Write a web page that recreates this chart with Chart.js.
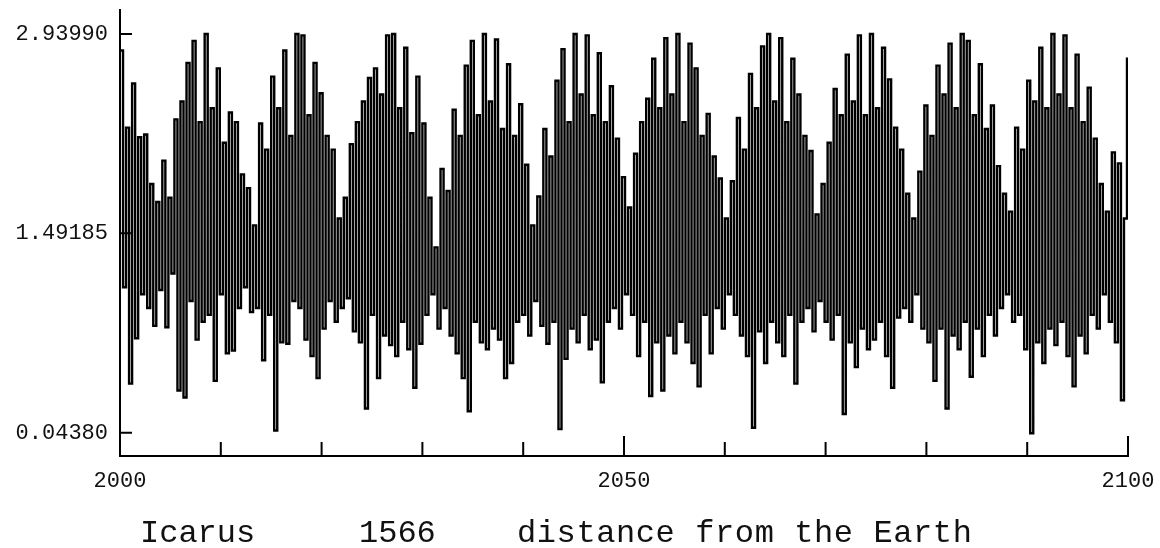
<!DOCTYPE html>
<html>
<head>
<meta charset="utf-8">
<script src="https://cdn.jsdelivr.net/npm/chart.js@4/dist/chart.umd.min.js"></script>
<style>
    body { margin: 0; background: #fff; }
    #wrap { width: 1160px; height: 548px; }
</style>
</head>
<body>
<div id="wrap"><canvas id="icarus_chart" width="1160" height="548"></canvas></div>
<script>
// sampling of the curve: one value every 0.3 year from 2000
const startYear = 2000;
const sampleStep = 0.3;

// Earth - Icarus distance (alternating high / low samples)
const distance = [
    2.82, 1.10, 2.26, 0.40, 2.58, 0.73, 2.19, 1.05, 2.21, 0.95,
    1.85, 0.82, 1.72, 1.08, 2.02, 0.81, 1.75, 1.20, 2.32, 0.35,
    2.45, 0.30, 2.73, 1.00, 2.89, 0.72, 2.30, 0.85, 2.94, 0.90,
    2.40, 0.42, 2.69, 1.05, 2.15, 0.62, 2.37, 0.64, 2.30, 0.95,
    1.92, 1.10, 1.82, 0.92, 1.55, 0.95, 2.29, 0.57, 2.10, 0.90,
    2.63, 0.06, 2.40, 0.70, 2.82, 0.69, 2.20, 1.00, 2.94, 0.95,
    2.93, 0.72, 2.35, 0.60, 2.73, 0.44, 2.51, 0.80, 2.20, 1.00,
    2.10, 0.85, 1.60, 0.95, 1.75, 1.02, 2.14, 0.78, 2.30, 0.70,
    2.45, 0.22, 2.62, 0.90, 2.69, 0.44, 2.50, 0.75, 2.93, 0.68,
    2.94, 0.60, 2.40, 0.85, 2.84, 0.65, 2.22, 0.37, 2.63, 0.69,
    2.29, 0.90, 1.75, 1.05, 1.39, 0.80, 1.96, 0.95, 1.80, 0.75,
    2.39, 0.62, 2.20, 0.44, 2.71, 0.20, 2.89, 0.85, 2.35, 0.70,
    2.94, 0.65, 2.45, 0.80, 2.90, 0.72, 2.25, 0.44, 2.72, 0.55,
    2.20, 0.85, 2.43, 0.90, 1.99, 0.75, 1.55, 1.00, 1.76, 0.82,
    2.25, 0.69, 2.05, 0.85, 2.60, 0.07, 2.83, 0.58, 2.30, 0.80,
    2.94, 0.70, 2.50, 0.90, 2.93, 0.65, 2.35, 0.72, 2.80, 0.41,
    2.30, 0.85, 2.56, 0.95, 2.18, 0.80, 1.90, 1.05, 1.68, 0.90,
    2.07, 0.60, 2.30, 0.85, 2.47, 0.31, 2.76, 0.70, 2.40, 0.35,
    2.91, 0.75, 2.50, 0.62, 2.94, 0.85, 2.30, 0.70, 2.87, 0.55,
    2.69, 0.38, 2.20, 0.90, 2.36, 0.62, 2.05, 0.95, 1.89, 0.80,
    1.60, 1.05, 1.87, 0.90, 2.33, 0.75, 2.10, 0.60, 2.65, 0.08,
    2.40, 0.78, 2.85, 0.55, 2.94, 0.85, 2.45, 0.70, 2.91, 0.60,
    2.30, 0.90, 2.76, 0.40, 2.50, 0.85, 2.20, 0.95, 2.09, 0.78,
    1.63, 1.00, 1.85, 0.85, 2.15, 0.72, 2.54, 0.90, 2.35, 0.18,
    2.79, 0.70, 2.45, 0.52, 2.93, 0.80, 2.35, 0.65, 2.94, 0.72,
    2.40, 0.85, 2.84, 0.60, 2.61, 0.37, 2.26, 0.88, 2.10, 0.95,
    1.78, 0.85, 1.60, 1.05, 1.94, 0.80, 2.42, 0.70, 2.20, 0.42,
    2.71, 0.80, 2.50, 0.22, 2.87, 0.75, 2.40, 0.65, 2.94, 0.85,
    2.89, 0.45, 2.35, 0.80, 2.72, 0.60, 2.25, 0.90, 2.42, 0.75,
    1.98, 0.95, 1.78, 1.05, 1.65, 0.85, 2.26, 0.90, 2.10, 0.65,
    2.60, 0.04, 2.45, 0.70, 2.84, 0.55, 2.40, 0.80, 2.94, 0.68,
    2.50, 0.85, 2.93, 0.60, 2.40, 0.38, 2.79, 0.75, 2.30, 0.62,
    2.55, 0.90, 2.18, 0.80, 1.85, 1.05, 1.65, 0.85, 2.08, 0.70,
    2.00, 0.28, 1.60, 2.77
];

// axis ticks
const yTickValues = [0.04380, 1.49185, 2.93990];
const xTickYears = [2000, 2010, 2020, 2030, 2040, 2050, 2060, 2070, 2080, 2090, 2100];
const xLabelYears = [2000, 2050, 2100];
const titleParts = ["Icarus", "1566", "distance from the Earth"];

const points = distance.map((d, i) => ({ x: startYear + i * sampleStep, y: d }));

const tickFont = { family: "'Liberation Mono', 'DejaVu Sans Mono', monospace", size: 22 };

// short tick marks drawn inside the plot, like the original, plus the caption
const innerTicks = {
    id: 'innerTicks',
    afterDraw(chart) {
        const ctx = chart.ctx;
        const area = chart.chartArea;
        const xs = chart.scales.x, ys = chart.scales.y;
        ctx.save();
        ctx.strokeStyle = '#000';
        ctx.lineWidth = 2;
        ctx.beginPath();
        xTickYears.forEach(v => {
            if (v === xs.min) return;
            let px = xs.getPixelForValue(v);
            let len = (v % 50 === 0) ? 20 : 14;
            ctx.moveTo(px, area.bottom);
            ctx.lineTo(px, area.bottom - len);
        });
        yTickValues.forEach(v => {
            let py = ys.getPixelForValue(v);
            ctx.moveTo(area.left, py);
            ctx.lineTo(area.left + 12, py);
        });
        ctx.stroke();

        ctx.fillStyle = '#111';
        ctx.font = "32px 'Liberation Mono', 'DejaVu Sans Mono', monospace";
        ctx.textBaseline = 'alphabetic';
        ctx.fillText(titleParts[0], 140, 542);
        ctx.fillText(titleParts[1], 359, 542);
        ctx.letterSpacing = '0.6px';
        ctx.fillText(titleParts[2], 517, 542);
        ctx.restore();
    }
};

let icarus_chart = new Chart(document.getElementById('icarus_chart'), {
    type: 'line',
    data: {
        datasets: [{
            label: 'distance',
            data: points,
            borderColor: '#000',
            borderWidth: 2.4,
            pointRadius: 0,
            stepped: true,
            fill: false
        }]
    },
    options: {
        responsive: false,
        animation: false,
        layout: { padding: { top: 10, right: 32, left: 0, bottom: 0 } },
        plugins: {
            legend: { display: false },
            tooltip: { enabled: false }
        },
        scales: {
            x: {
                type: 'linear',
                min: 2000,
                max: 2100,
                grid: { display: false },
                border: { display: true, color: '#000', width: 2 },
                ticks: {
                    font: tickFont,
                    color: '#111',
                    padding: 4,
                    maxRotation: 0,
                    autoSkip: false,
                    callback: v => xLabelYears.includes(v) ? String(v) : ''
                },
                afterBuildTicks: s => { s.ticks = xTickYears.map(v => ({ value: v })); },
                afterFit: s => { s.height = 92; s.paddingLeft = 0; s.paddingRight = 0; }
            },
            y: {
                type: 'linear',
                min: -0.1254,
                max: 3.1142,
                grid: { display: false },
                border: { display: true, color: '#000', width: 2 },
                ticks: {
                    font: tickFont,
                    color: '#111',
                    padding: 4,
                    callback: v => v.toFixed(5)
                },
                afterBuildTicks: s => { s.ticks = yTickValues.map(v => ({ value: v })); },
                afterFit: s => { s.width = 120; s.paddingTop = 0; s.paddingBottom = 0; }
            }
        }
    },
    plugins: [innerTicks]
});
</script>
</body>
</html>
